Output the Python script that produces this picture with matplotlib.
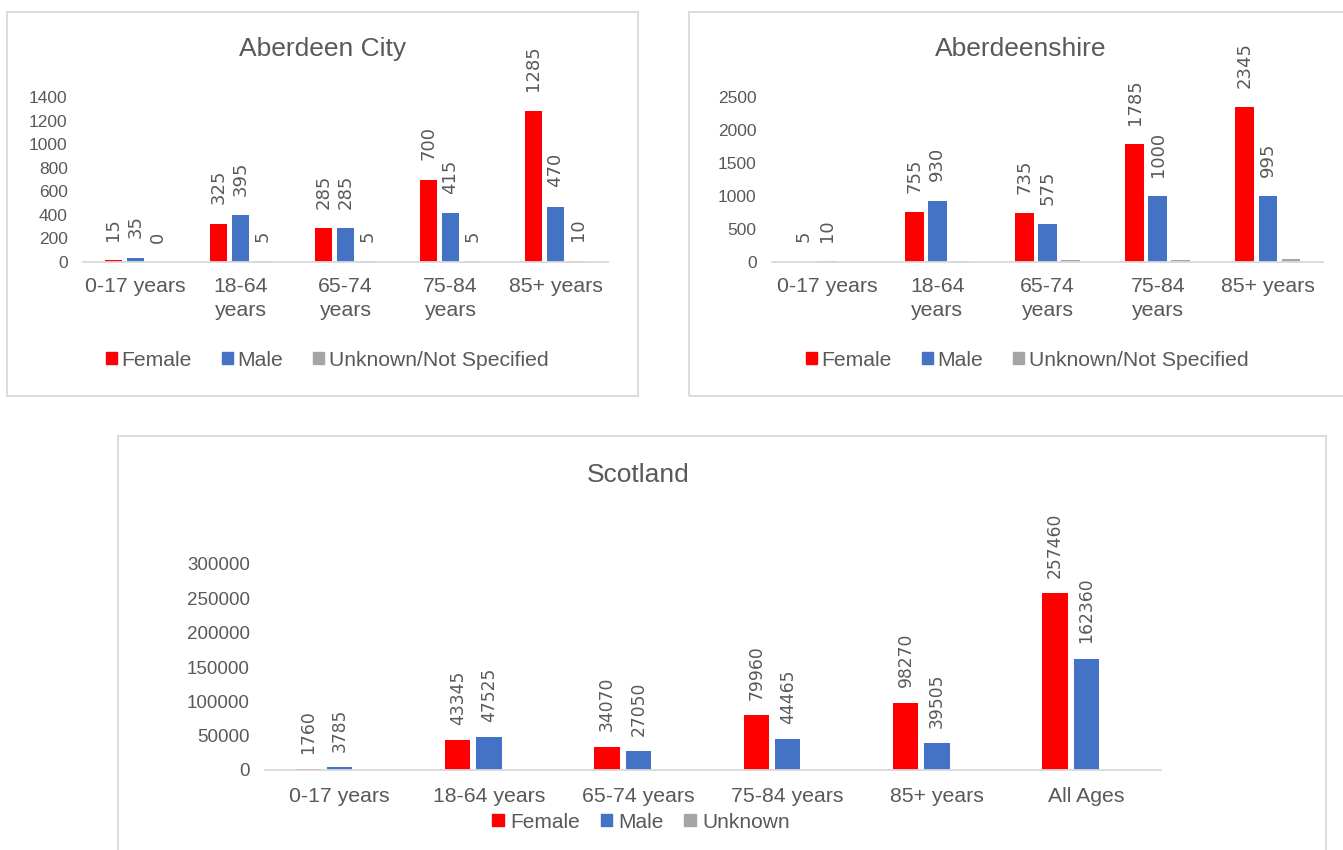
import numpy as np
import matplotlib
matplotlib.use("Agg")
import matplotlib.pyplot as plt
from matplotlib.patches import Rectangle
from matplotlib import font_manager

# ---- data -------------------------------------------------------------
local_groups = ['0-17 years', '18-64\nyears', '65-74\nyears', '75-84\nyears', '85+ years']

city_female = [15, 325, 285, 700, 1285]
city_male = [35, 395, 285, 415, 470]
city_unknown = [0, 5, 5, 5, 10]

shire_female = [5, 755, 735, 1785, 2345]
shire_male = [10, 930, 575, 1000, 995]
shire_unknown = [0, 15, 30, 35, 50]

scot_groups = ['0-17 years', '18-64 years', '65-74 years', '75-84 years', '85+ years', 'All Ages']
scot_female = [1760, 43345, 34070, 79960, 98270, 257460]
scot_male = [3785, 47525, 27050, 44465, 39505, 162360]
scot_unknown = [235, 340, 25, 20, 10, 630]

local_legend = ['Female', 'Male', 'Unknown/Not Specified']
scot_legend = ['Female', 'Male', 'Unknown']

# ---- style ------------------------------------------------------------
RED = '#FF0000'
BLUE = '#4472C4'
GREY = '#A5A5A5'
TEXT = '#595959'
LINE = '#D9D9D9'
FONT = 'Liberation Sans'

installed = {f.name for f in font_manager.fontManager.ttflist}
if 'Liberation Sans Narrow' in installed:
    LOCAL_LABEL_FONT, LOCAL_LABEL_SIZE = 'Liberation Sans Narrow', 15.5
else:
    LOCAL_LABEL_FONT, LOCAL_LABEL_SIZE = 'DejaVu Sans', 13
SCOT_LABEL_FONT, SCOT_LABEL_SIZE = 'DejaVu Sans', 12.3

W, H = 1343, 850
fig = plt.figure(figsize=(W / 100, H / 100), dpi=100)
plt.rcParams['font.family'] = FONT


def fx(x):
    return x / W


def fy(y):
    return 1 - y / H


def add_panel(x0, y0, x1, y1):
    fig.patches.append(Rectangle((fx(x0), fy(y1)), fx(x1 - x0), (y1 - y0) / H,
                                 transform=fig.transFigure, fill=False,
                                 edgecolor=LINE, linewidth=1.3, zorder=0))


def make_axes(x0, y0, x1, y1):
    ax = fig.add_axes([fx(x0), fy(y1), fx(x1 - x0), (y1 - y0) / H])
    ax.set_facecolor('none')
    for s in ('top', 'right', 'left'):
        ax.spines[s].set_visible(False)
    ax.spines['bottom'].set_color(LINE)
    ax.spines['bottom'].set_linewidth(1.3)
    return ax


def draw_bars(ax, groups, series, labelled, ymax, ystep, tick_size, cat_size,
              label_font, label_size, label_gap, xpad):
    x = np.arange(len(groups))
    width = 0.17
    offsets = [-0.21, 0.0, 0.21]
    colors = [RED, BLUE, GREY]
    for vals, off, col, lab in zip(series, offsets, colors, labelled):
        bars = ax.bar(x + off, vals, width, color=col, zorder=2)
        if lab:
            for rect, v in zip(bars, vals):
                ax.annotate(f'{v}', (rect.get_x() + rect.get_width() / 2, v),
                            xytext=(0, label_gap), textcoords='offset points',
                            rotation=90, ha='center', va='bottom',
                            fontsize=label_size, color=TEXT, family=label_font)
    ax.set_xlim(-0.5, len(groups) - 0.5)
    ax.set_ylim(0, ymax)
    ax.set_yticks(np.arange(0, ymax + 1, ystep))
    ax.set_xticks(x)
    ax.set_xticklabels(groups, fontsize=cat_size, color=TEXT, linespacing=1.3)
    ax.tick_params(axis='y', length=0, pad=11, labelsize=tick_size, labelcolor=TEXT)
    ax.tick_params(axis='x', length=0, pad=xpad)


def add_legend(names, cx, cy, size, colspace, textpad):
    handles = [Rectangle((0, 0), 1, 1, color=c) for c in (RED, BLUE, GREY)]
    fig.legend(handles, names, loc='center', bbox_to_anchor=(fx(cx), fy(cy)),
               ncol=3, frameon=False, fontsize=size, labelcolor=TEXT,
               handlelength=0.55, handleheight=0.55, handletextpad=textpad,
               columnspacing=colspace, borderpad=0, borderaxespad=0)


# ---- Aberdeen City ----------------------------------------------------
add_panel(7, 12, 638, 396)
ax1 = make_axes(83, 97, 608, 262)
draw_bars(ax1, local_groups, [city_female, city_male, city_unknown],
          [True, True, True], 1400, 200, 12.5, 15.3,
          LOCAL_LABEL_FONT, LOCAL_LABEL_SIZE, 14, 11)
fig.text(fx(323), fy(49), 'Aberdeen City', ha='center', va='center',
         fontsize=19, color=TEXT)
add_legend(local_legend, 327, 360, 15.2, 1.4, 0.2)

# ---- Aberdeenshire ----------------------------------------------------
add_panel(689, 12, 1360, 396)
ax2 = make_axes(772, 97, 1323, 262)
draw_bars(ax2, local_groups, [shire_female, shire_male, shire_unknown],
          [True, True, False], 2500, 500, 12.5, 15.3,
          LOCAL_LABEL_FONT, LOCAL_LABEL_SIZE, 14, 11)
fig.text(fx(1021), fy(49), 'Aberdeenshire', ha='center', va='center',
         fontsize=19, color=TEXT)
add_legend(local_legend, 1027, 360, 15.2, 1.4, 0.2)

# ---- Scotland ---------------------------------------------------------
add_panel(118, 436, 1326, 870)
ax3 = make_axes(265, 564, 1161, 770)
draw_bars(ax3, scot_groups, [scot_female, scot_male, scot_unknown],
          [True, True, False], 300000, 50000, 13.5, 15.3,
          SCOT_LABEL_FONT, SCOT_LABEL_SIZE, 11, 12)
fig.text(fx(638), fy(475), 'Scotland', ha='center', va='center',
         fontsize=19, color=TEXT)
add_legend(scot_legend, 641, 822, 15, 1.0, 0.3)

fig.savefig('out.png', dpi=100, facecolor='white')
